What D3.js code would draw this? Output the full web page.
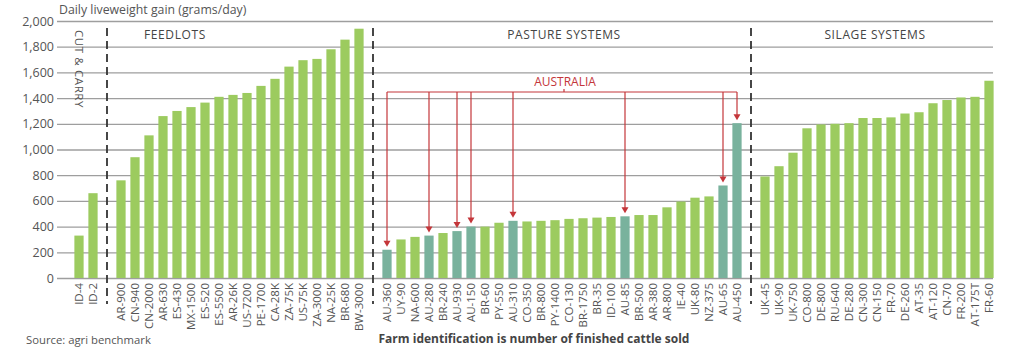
<!DOCTYPE html>
<html><head><meta charset="utf-8">
<script src="https://cdn.jsdelivr.net/npm/d3@7"></script>
<style>
body{margin:0;background:#fff;}
text{font-family:"Open Sans","Noto Sans",sans-serif;}
</style></head>
<body><svg id="c" width="1024" height="358"></svg>
<script>
// ---- data ----
const cutCarryLabels = ["ID-4","ID-2"];
const cutCarryValues = [330,660];
const feedlotLabels = ["AR-900","CN-940","CN-2000","AR-630","ES-430","MX-1500","ES-520","ES-5500","AR-26K","US-7200","PE-1700","CA-28K","ZA-75K","US-75K","ZA-3000","NA-25K","BR-680","BW-3000"];
const feedlotValues = [760,940,1110,1260,1300,1330,1365,1410,1425,1440,1495,1550,1645,1695,1705,1780,1855,1940];
const pastureLabels = ["AU-360","UY-90","NA-600","AU-280","BR-240","AU-930","AU-150","BR-60","PY-550","AU-310","CO-350","BR-800","PY-1400","CO-130","BR-1750","BR-35","ID-100","AU-85","BR-500","AR-380","AR-800","IE-40","UK-80","NZ-375","AU-65","AU-450"];
const pastureValues = [220,300,320,330,350,365,400,400,430,445,440,445,450,460,465,470,475,480,490,490,550,595,625,635,720,1205];
const silageLabels = ["UK-45","UK-90","UK-750","CO-800","DE-800","RU-640","DE-280","CN-300","CN-150","FR-70","DE-260","AT-35","AT-120","CN-70","FR-200","AT-175T","FR-60"];
const silageValues = [790,870,975,1165,1195,1200,1205,1245,1245,1250,1280,1290,1360,1385,1405,1410,1535];
const australiaFarms = ["AU-360","AU-280","AU-930","AU-150","AU-310","AU-85","AU-65","AU-450"];
const yTicks = [0,200,400,600,800,1000,1200,1400,1600,1800,2000];

// ---- layout ----
const svg = d3.select("#c");
const green = "#9ccb5f", teal = "#79b29d", red = "#c4363a", grid = "#9e9e9e", txt = "#555";

const groups = [
  {labels: cutCarryLabels, values: cutCarryValues},
  {labels: feedlotLabels, values: feedlotValues},
  {labels: pastureLabels, values: pastureValues},
  {labels: silageLabels, values: silageValues}
];
const slots = [], bars = [], seps = [];
groups.forEach((g, gi) => {
  if (gi > 0) { const s = "sep" + gi; slots.push(s); seps.push(s); }
  g.labels.forEach((l, i) => { slots.push(l); bars.push({label: l, value: g.values[i]}); });
});

const x = d3.scaleBand().domain(slots).range([72, 996]).paddingInner(0.34).paddingOuter(0.17);
const y = d3.scaleLinear().domain([0, 2000]).range([278, 21]);
const cx = d => x(d) + x.bandwidth() / 2;

// gridlines + y labels
const yAxis = d3.axisLeft(y).tickValues(yTicks).tickSize(936).tickPadding(3).tickFormat(d3.format(","));
const ga = svg.append("g").attr("transform", "translate(993,0)").call(yAxis);
ga.select(".domain").remove();
ga.selectAll(".tick line").attr("stroke", grid).attr("stroke-width", 1.3);
ga.selectAll(".tick text").attr("fill", txt).style("font-size", "12.5px").style("font-family", "'Open Sans',sans-serif");

// bars
svg.append("g").selectAll("rect").data(bars).join("rect")
  .attr("x", d => x(d.label)).attr("width", x.bandwidth())
  .attr("y", d => y(d.value)).attr("height", d => y(0) - y(d.value))
  .attr("fill", d => australiaFarms.includes(d.label) ? teal : green);

// separators
svg.append("g").selectAll("line").data(seps).join("line")
  .attr("x1", cx).attr("x2", cx).attr("y1", 28).attr("y2", 304)
  .attr("stroke", "#333").attr("stroke-width", 1.8).attr("stroke-dasharray", "8,5");

// x labels
svg.append("g").selectAll("text").data(bars).join("text")
  .attr("transform", d => `translate(${cx(d.label) + 4},283) rotate(-90)`)
  .attr("text-anchor", "end").attr("fill", txt).style("font-size", "11.5px")
  .text(d => d.label);

// section titles
svg.append("text").attr("transform", `translate(${cx("ID-4") - 1},30) rotate(90)`)
  .attr("fill", txt).style("font-size", "11.5px").style("letter-spacing", "0.6px").attr("dominant-baseline", "middle").text("CUT & CARRY");
const sec = (xx, anchor, t) => svg.append("text").attr("x", xx).attr("y", 39).attr("text-anchor", anchor)
  .attr("fill", "#444").style("font-size", "12px").style("letter-spacing", "0.6px").text(t);
sec(144, "start", "FEEDLOTS");
sec(564, "middle", "PASTURE SYSTEMS");
sec(875, "middle", "SILAGE SYSTEMS");

// title
svg.append("text").attr("x", 59).attr("y", 14).attr("fill", txt).style("font-size", "12.3px").text("Daily liveweight gain (grams/day)");

// Australia annotation
const auBars = bars.filter(d => australiaFarms.includes(d.label));
const lineY = 92;
const xa0 = cx(auBars[0].label), xa1 = cx(auBars[auBars.length - 1].label);
const ann = svg.append("g");
ann.append("line").attr("x1", xa0).attr("x2", xa1).attr("y1", lineY).attr("y2", lineY).attr("stroke", red).attr("stroke-width", 1.2);
ann.append("line").attr("x1", 564).attr("x2", 564).attr("y1", lineY).attr("y2", lineY - 3).attr("stroke", red).attr("stroke-width", 1.2);
ann.append("text").attr("x", 565).attr("y", 86).attr("text-anchor", "middle").attr("fill", red).style("font-size", "12px").text("AUSTRALIA");
auBars.forEach(d => {
  const xx = cx(d.label), tip = y(d.value) - 3;
  ann.append("line").attr("x1", xx).attr("x2", xx).attr("y1", lineY).attr("y2", tip - 4).attr("stroke", red).attr("stroke-width", 1.2);
  ann.append("path").attr("d", `M${xx - 3.5},${tip - 6}L${xx + 3.5},${tip - 6}L${xx},${tip}Z`).attr("fill", red);
});

// footers
svg.append("text").attr("x", 26).attr("y", 344).attr("fill", txt).style("font-size", "11.3px").text("Source: agri benchmark");
svg.append("text").attr("x", 534).attr("y", 343).attr("text-anchor", "middle").attr("fill", "#444").style("font-size", "12px").style("font-weight", "bold").text("Farm identification is number of finished cattle sold");
</script></body></html>
